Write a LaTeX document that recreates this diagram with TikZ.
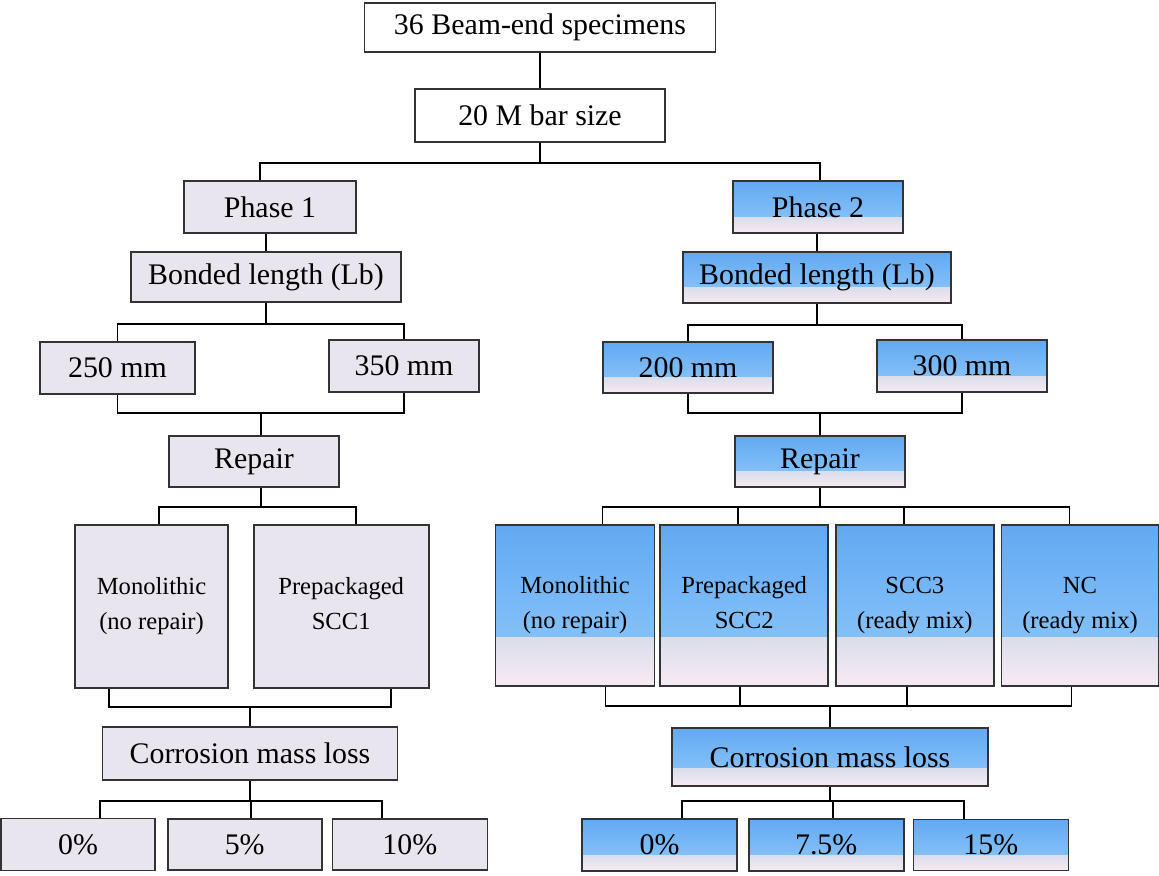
\documentclass[tikz,border=0pt]{standalone}
\usepackage{fontspec}
\setmainfont{Liberation Serif}
\usetikzlibrary{positioning, calc}
\definecolor{edgegray}{RGB}{51, 51, 51}
\definecolor{panelgray}{RGB}{232, 229, 238}
\definecolor{skytop}{RGB}{98, 169, 242}
\definecolor{skymid}{RGB}{146, 202, 250}
\definecolor{mistblue}{RGB}{218, 222, 234}
\definecolor{mistpink}{RGB}{248, 234, 244}

\begin{document}
\begin{tikzpicture}[x=0.2mm, y=-0.2mm,
    base/.style={draw=edgegray, line width=0.95pt, inner sep=2pt, align=center,
                 font=\fontsize{17}{20}\selectfont},
    graybox/.style={base, fill=panelgray},
    bluebox/.style={base, path picture={
        \shade[top color=skytop, bottom color=skymid]
            (path picture bounding box.north west) rectangle
            ($(path picture bounding box.east)!0.4!(path picture bounding box.south east)$);
        \shade[top color=mistblue, bottom color=mistpink]
            (path picture bounding box.south west) rectangle
            ($(path picture bounding box.east)!0.4!(path picture bounding box.south east)$);}},
    wh/.style 2 args={minimum width=#1*0.2mm, minimum height=#2*0.2mm},
    small/.style={font=\fontsize{14}{20}\selectfont, text depth=0.3em},
    link/.style={line width=1pt, black}
]
    \useasboundingbox (0,0) rectangle (1159,875);

    \node[base, fill=white, wh={351}{49}] (spec) at (540,27.5) {36 Beam-end specimens};
    \node[base, fill=white, wh={250}{53}] (bar) at (540,115.5) {20 M bar size};

    % phase 1
    \node[graybox, wh={172}{52}] (ph1) at (270,207) {Phase 1};
    \node[graybox, wh={270}{50}] (bl1) at (266,277) {Bonded length (Lb)};
    \node[graybox, wh={155}{52}] (l250) at (117.5,368) {250 mm};
    \node[graybox, wh={150}{52}] (l350) at (404,366) {350 mm};
    \node[graybox, wh={170}{51}] (rep1) at (254,461.5) {Repair};
    \node[graybox, small, wh={153}{163}] (mono1) at (151.5,606.5) {Monolithic\\(no repair)};
    \node[graybox, small, wh={175}{163}, right=4.8mm of mono1] (scc1) {Prepackaged\\SCC1};
    \node[graybox, wh={295}{53}] (cor1) at (250,753.5) {Corrosion mass loss};
    \node[graybox, wh={154}{52}] (p0a) at (78,844.5) {0\%};
    \node[graybox, wh={154}{51}, right=2.2mm of p0a] (p5) {5\%};
    \node[graybox, wh={155}{51}, right=1.8mm of p5] (p10) {10\%};

    % phase 2
    \node[bluebox, wh={170}{52}] (ph2) at (818,207) {Phase 2};
    \node[bluebox, wh={268}{51}] (bl2) at (817,277.5) {Bonded length (Lb)};
    \node[bluebox, wh={170}{51}] (l200) at (688,367.5) {200 mm};
    \node[bluebox, wh={170}{52}] (l300) at (962,366) {300 mm};
    \node[bluebox, wh={170}{51}] (rep2) at (820,461.5) {Repair};
    \node[bluebox, small, wh={159}{161}] (mono2) at (575,605.5) {Monolithic\\(no repair)};
    \node[bluebox, small, wh={168}{161}, right=0.8mm of mono2] (scc2) {Prepackaged\\SCC2};
    \node[bluebox, small, wh={158}{161}, right=1.2mm of scc2] (scc3) {SCC3\\(ready mix)};
    \node[bluebox, small, wh={157}{161}, right=1.2mm of scc3] (nc) {NC\\(ready mix)};
    \node[bluebox, wh={316}{58}] (cor2) at (830,757) {Corrosion mass loss};
    \node[bluebox, wh={155}{52}] (p0b) at (659.5,845) {0\%};
    \node[bluebox, wh={155}{52}, right=2mm of p0b] (p75) {7.5\%};
    \node[bluebox, wh={155}{51}, right=1.6mm of p75] (p15) {15\%};

    % connectors
    \draw[link] (spec.south) -- (spec.south |- bar.north);
    \draw[link] (bar.south) -- ++(0,20) -| ([xshift=-2mm]ph1.north);
    \draw[link] (bar.south) -- ++(0,20) -| ([xshift=0.4mm]ph2.north);
    \draw[link] (bl1.north) -- (bl1.north |- ph1.south);
    \draw[link] (bl2.north) -- (bl2.north |- ph2.south);

    \foreach \c in {l250, l350} {
        \draw[link] (bl1.south) -- ++(0,21) -| (\c.north);
        \draw[link] ([xshift=1.4mm]rep1.north) -- ++(0,-22) -| (\c.south);
    }
    \foreach \c in {l200, l300} {
        \draw[link] (bl2.south) -- ++(0,21) -| (\c.north);
        \draw[link] (rep2.north) -- ++(0,-22) -| (\c.south);
    }

    \foreach \c/\dx/\dy in {mono1/1.5/-8.5, scc1/3/9.9} {
        \draw[link] ([xshift=1.4mm]rep1.south) -- ++(0,19) -| ([xshift=\dx mm]\c.north);
        \draw[link] (cor1.north) -- ++(0,-19) -| ([xshift=\dy mm]\c.south);
    }
    \foreach \c/\dx/\dy in {mono2/5.5/6.1, scc2/-1.2/-0.8, scc3/-2.2/-1.6, nc/-2.1/-1.7} {
        \draw[link] (rep2.south) -- ++(0,19) -| ([xshift=\dx mm]\c.north);
        \draw[link] (cor2.north) -- ++(0,-21) -| ([xshift=\dy mm]\c.south);
    }

    \foreach \c/\dx in {p0a/4.4, p5/1.2, p10/-5.5}
        \draw[link] (cor1.south) -- ++(0,20) -| ([xshift=\dx mm]\c.north);
    \foreach \c/\dx in {p0b/4.5, p75/1.3, p15/-5.3}
        \draw[link] (cor2.south) -- ++(0,14) -| ([xshift=\dx mm]\c.north);
\end{tikzpicture}
\end{document}
